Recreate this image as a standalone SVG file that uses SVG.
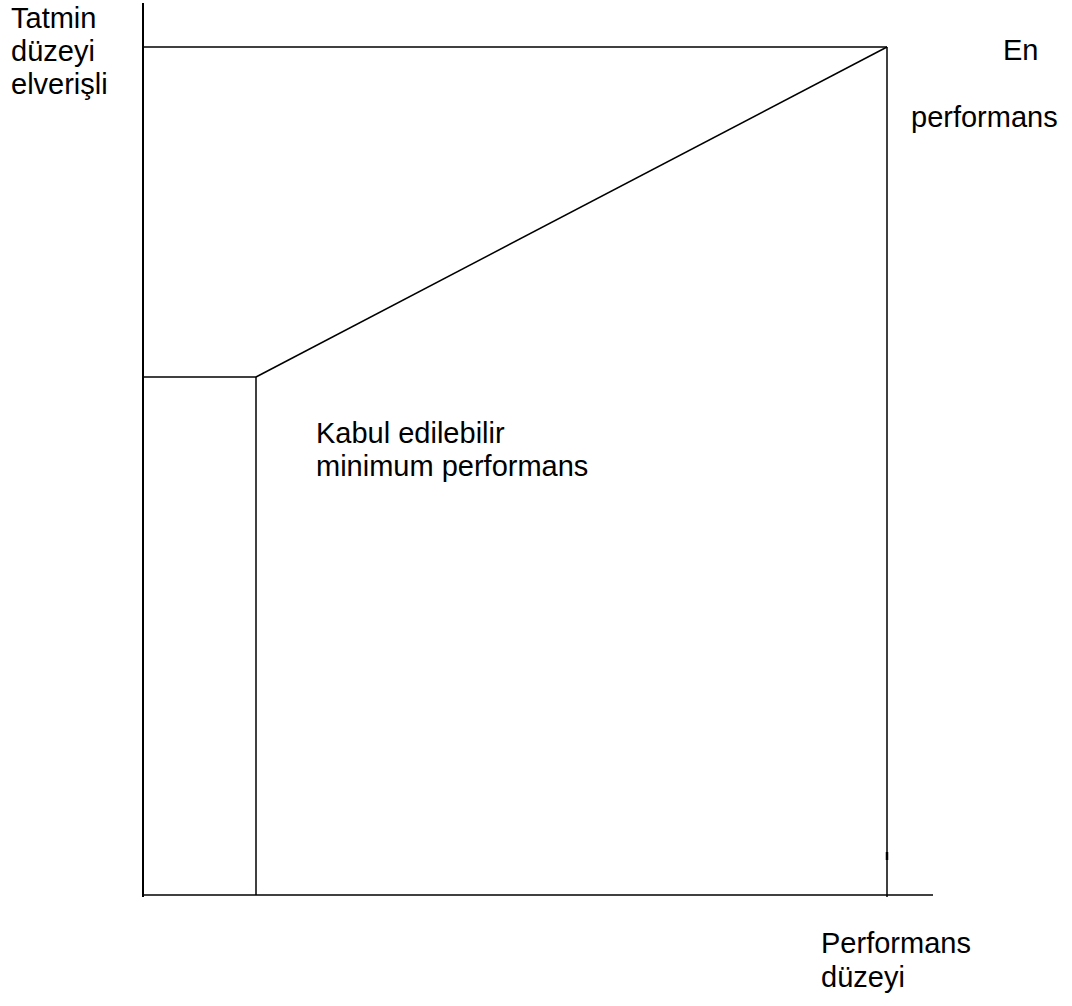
<svg xmlns="http://www.w3.org/2000/svg" width="1072" height="1006" viewBox="0 0 1072 1006">
<style>
.ln{stroke:#000;stroke-width:1.5;fill:none;stroke-linecap:butt}
.ax{stroke:#000;stroke-width:2;fill:none}
.t{font-family:"Liberation Sans",Arial,sans-serif;font-size:29px;fill:#000}
</style>
<rect width="1072" height="1006" fill="#fff"/>
<g id="axes">
<line class="ax" x1="143" y1="3" x2="143" y2="897"/>
<line class="ln" x1="143" y1="895" x2="933" y2="895"/>
</g>
<g id="lines">
<line class="ln" x1="143" y1="47" x2="887" y2="47"/>
<line class="ln" x1="887" y1="47" x2="887" y2="897"/>
<line class="ln" x1="143" y1="377" x2="256" y2="377"/>
<line class="ln" x1="256" y1="377" x2="256" y2="895"/>
<line class="ln" x1="256" y1="377" x2="887" y2="47"/>
<line stroke="#000" stroke-width="2.5" x1="887" y1="852" x2="887" y2="860"/>
</g>
<g id="labels">
<text class="t" x="11" y="28">Tatmin</text>
<text class="t" x="11" y="61">düzeyi</text>
<text class="t" x="11" y="94">elverişli</text>
<text class="t" x="1003" y="60">En</text>
<text class="t" x="911" y="127">performans</text>
<text class="t" x="316" y="443">Kabul edilebilir</text>
<text class="t" x="316" y="476">minimum performans</text>
<text class="t" x="821" y="953">Performans</text>
<text class="t" x="821" y="987">düzeyi</text>
</g>
</svg>
